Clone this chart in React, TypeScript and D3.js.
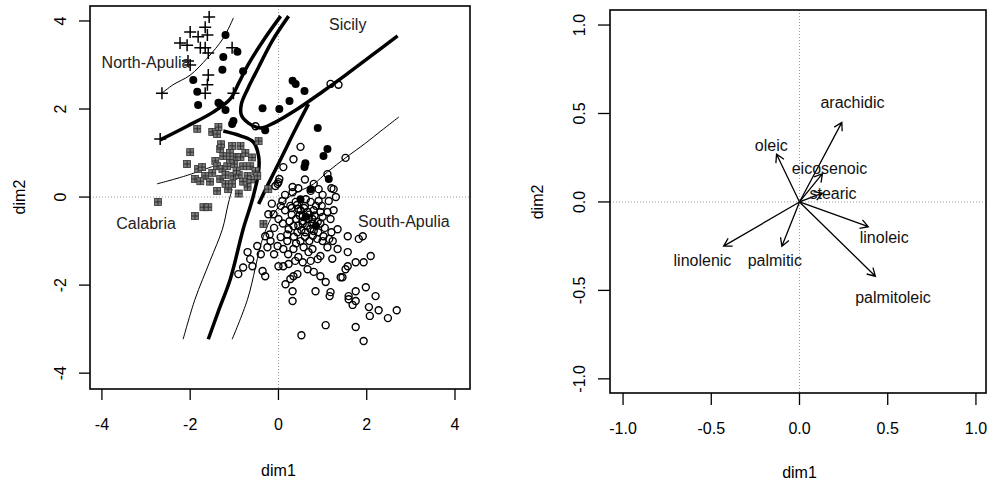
import React from 'react';
import * as d3 from 'd3';

// left panel: discriminant scores, four regions
const northApulia = [
  [-1.57, 4.09], [-1.66, 3.86], [-2.0, 3.75], [-1.82, 3.64], [-1.61, 3.68], [-2.23, 3.5],
  [-2.07, 3.45], [-1.77, 3.39], [-1.66, 3.39], [-1.59, 3.27], [-1.05, 3.39], [-2.0, 3.0],
  [-1.59, 2.77], [-1.61, 2.55], [-1.66, 2.36], [-2.64, 2.36], [-1.02, 2.36], [-2.05, 3.09],
  [-2.68, 1.32],
];

const sicily = [
  [-1.2, 3.68], [-1.25, 3.18], [-1.27, 2.89], [-1.93, 2.66], [-1.84, 2.39], [-1.82, 2.09],
  [-0.93, 3.3], [-1.36, 2.14], [-1.2, 1.98], [0.32, 2.64], [0.39, 2.57], [0.59, 2.41],
  [0.25, 2.18], [0.02, 2.0], [-0.36, 2.02], [-0.3, 1.52], [0.89, 1.57], [1.11, 1.09],
  [1.02, 0.93], [0.61, 0.77], [0.59, 0.68], [1.14, 0.41], [-0.8, 2.86], [-1.02, 1.73],
  [-1.32, 2.11], [-1.05, 1.66], [0.5, -0.05], [0.73, 0.18], [0.62, -0.45], [0.85, -0.65],
];

const calabria = [
  [-1.84, 1.55], [-1.36, 1.59], [-1.5, 1.48], [-1.39, 1.43], [-2.0, 1.02], [-2.07, 0.75],
  [-1.82, 0.64], [-1.73, 0.68], [-1.66, 0.48], [-1.89, 0.41], [-1.77, 0.36], [-1.32, 1.09],
  [-1.05, 1.16], [-0.86, 1.16], [-1.25, 0.93], [-1.43, 0.82], [-1.39, 0.7], [-1.27, 0.64],
  [-1.16, 0.7], [-0.98, 0.91], [-0.86, 0.91], [-0.8, 0.7], [-0.64, 0.7], [-0.52, 0.59],
  [-0.7, 0.48], [-1.02, 0.48], [-1.32, 0.41], [-1.39, 0.14], [-1.14, 0.18], [-0.7, 0.23],
  [-0.48, 0.48], [-0.45, 1.27], [-0.23, 0.18], [-2.73, -0.11], [-1.7, -0.23], [-1.59, -0.23],
  [-1.89, -0.43], [-0.34, -0.61], [-1.1, 1.0], [-0.9, 0.5], [-1.2, 0.3], [-0.6, 0.9],
  [-1.0, 0.75], [-0.75, 1.0], [-1.5, 0.55], [-1.3, 1.2], [-1.1, 0.85], [-0.95, 0.6],
  [-0.8, 0.35], [-1.05, 0.3], [-0.62, 0.4], [-1.2, 0.5], [-0.9, 0.08], [-1.55, 0.35],
];

const southApulia = [
  [0.5, 1.14], [0.34, 0.86], [0.11, 0.68], [1.52, 0.89], [1.11, 0.52], [1.18, 2.57],
  [1.36, 2.55], [-0.52, 1.61], [0.02, 0.41], [-0.02, 0.3], [0.32, 0.23], [1.25, 0.18],
  [0.91, 0.18], [0.73, 0.14], [0.32, 0.11], [0.0, 0.34], [-0.07, 0.25], [0.09, -0.09],
  [0.27, -0.2], [0.39, -0.11], [0.45, -0.27], [0.55, -0.43], [0.66, -0.34], [0.77, -0.5],
  [0.89, -0.57], [0.95, -0.34], [1.11, -0.34], [1.18, -0.5], [1.34, -0.73], [1.14, -0.09],
  [0.91, -0.09], [0.73, -0.11], [0.55, -0.61], [0.34, -0.66], [0.23, -0.73], [0.43, -0.8],
  [0.61, -0.8], [0.8, -0.77], [1.02, -0.89], [1.23, -1.0], [1.34, -1.18], [1.11, -1.14],
  [0.95, -1.34], [0.77, -1.18], [0.57, -1.14], [0.34, -1.18], [0.11, -1.18], [-0.02, -1.11],
  [-0.18, -1.0], [-0.25, -1.14], [-0.11, -0.39], [-0.23, -0.39], [0.0, -0.5], [0.05, -0.91],
  [-0.48, -1.11], [-0.3, -0.89], [-0.64, -1.41], [-0.59, -1.57], [-0.36, -1.68], [-0.3, -1.8],
  [-0.91, -1.75], [0.0, -1.57], [0.11, -1.57], [0.23, -1.52], [0.45, -1.36], [0.55, -1.48],
  [0.73, -1.45], [0.89, -1.41], [0.66, -1.64], [0.8, -1.7], [0.95, -1.8], [1.07, -1.93],
  [0.43, -1.75], [0.27, -1.86], [0.16, -1.98], [0.32, -2.14], [0.84, -2.14], [1.18, -2.16],
  [1.45, -1.82], [1.57, -1.57], [1.57, -0.89], [1.82, -0.95], [1.91, -0.89], [1.75, -1.48],
  [1.93, -1.48], [2.09, -1.34], [1.59, -2.25], [1.98, -2.05], [2.2, -2.25], [1.57, -1.25],
  [1.52, -1.64], [1.41, -1.82], [1.75, -2.14], [1.59, -2.32], [1.75, -2.36], [1.68, -2.45],
  [2.05, -2.5], [2.27, -2.57], [2.07, -2.7], [2.68, -2.57], [2.48, -2.75], [1.16, -2.25],
  [1.07, -2.91], [1.75, -2.95], [0.52, -3.14], [1.93, -3.27], [0.32, -2.36], [0.34, -1.8],
  [0.5, -0.3], [0.6, -0.2], [0.7, -0.4], [0.55, -0.55], [0.65, -0.65], [0.8, -0.3],
  [0.85, -0.2], [0.4, -0.5], [0.45, -0.65], [0.75, -0.6], [0.95, -0.6], [1.0, -0.45],
  [0.3, -0.4], [0.6, -0.9], [0.9, -0.8], [1.0, -1.0], [0.2, -1.0], [0.5, -1.0],
  [0.7, -1.0], [0.35, -0.9], [1.2, -0.8], [0.15, -0.3], [0.25, -0.55], [0.05, -0.2],
  [-0.1, -0.7], [-0.2, -0.85], [-0.4, -1.3], [-0.7, -1.25], [-0.8, -1.6], [0.6, 0.4],
  [0.8, 0.3], [1.0, 0.05], [1.2, 0.2], [1.3, 0.0], [0.58, -0.25], [0.68, -0.5],
  [0.48, -0.42], [0.82, -0.42], [0.72, -0.72], [0.52, -0.75], [0.88, -0.95], [0.42, -0.18],
  [0.62, -0.05], [0.98, -0.2], [1.05, -0.7], [0.2, -0.85], [0.4, -1.05], [0.78, -0.88],
  [1.15, -0.95], [0.1, -0.6], [0.3, -0.25], [1.25, -0.3], [0.15, 0.05], [0.45, 0.2],
  [-0.15, -0.15], [0.68, -1.25], [0.22, -1.3], [1.22, -1.4], [0.38, -1.45], [-0.1, -1.3],
];

// class boundaries (thick) and probability contours (thin)
const boundaryA = [[0.05, 4.11], [-0.32, 3.59], [-0.68, 3.02], [-0.91, 2.57], [-1.09, 2.23], [-1.48, 1.93], [-2.07, 1.61], [-2.68, 1.3]];
const boundaryB = [[0.23, 4.11], [-0.14, 3.55], [-0.45, 2.95], [-0.7, 2.45], [-0.84, 2.11], [-0.84, 1.86], [-0.68, 1.68], [-0.41, 1.57], [-0.11, 1.68], [0.43, 2.0], [1.02, 2.41], [1.52, 2.77], [2.09, 3.2], [2.7, 3.66]];
const boundaryC = [[-1.25, 1.5], [-0.86, 1.39], [-0.57, 1.25], [-0.45, 0.93], [-0.45, 0.57], [-0.59, -0.05], [-0.8, -0.73], [-1.09, -1.86], [-1.36, -2.59], [-1.59, -3.23]];
const boundaryD = [[0.68, 2.11], [0.39, 1.55], [0.05, 0.86], [-0.23, 0.3], [-0.45, -0.16]];
const contour1 = [[-1.02, 4.07], [-1.25, 3.61], [-1.61, 3.16], [-2.0, 2.77], [-2.39, 2.55], [-2.64, 2.36]];
const contour2 = [[-2.75, 0.3], [-2.11, 0.48], [-1.48, 0.7]];
const contour3 = [[-2.16, -3.23], [-1.89, -2.32], [-1.55, -1.45], [-1.27, -0.73], [-1.14, -0.16], [-1.05, 0.18]];
const contour4 = [[-1.05, -3.23], [-0.7, -2.32], [-0.34, -0.89], [-0.07, -0.32], [0.27, 0.02], [0.8, 0.3], [1.11, 0.57], [1.52, 0.89], [1.98, 1.23], [2.32, 1.5], [2.73, 1.82]];

const regionNames = ['North-Apulia', 'Sicily', 'Calabria', 'South-Apulia'];
const regionLabelAt = [[-3.0, 3.05], [1.57, 3.92], [-3.0, -0.59], [2.84, -0.55]];

// right panel: variable loadings
const acids = ['arachidic', 'oleic', 'eicosenoic', 'stearic', 'linoleic', 'palmitoleic', 'palmitic', 'linolenic'];
const loadX = [0.24, -0.13, 0.13, 0.13, 0.39, 0.43, -0.1, -0.43];
const loadY = [0.45, 0.27, 0.16, 0.05, -0.14, -0.42, -0.25, -0.25];
const acidLabelAt = [[0.3, 0.56], [-0.16, 0.32], [0.17, 0.19], [0.19, 0.05], [0.48, -0.2], [0.53, -0.54], [-0.14, -0.33], [-0.55, -0.33]];

const leftTicks = [-4, -2, 0, 2, 4];
const rightTicks = [-1.0, -0.5, 0.0, 0.5, 1.0];

const FONT = '"Liberation Sans", Arial, sans-serif';

export default function App() {
  const W = 988, H = 481;

  const lx = d3.scaleLinear().domain([-4.27, 4.34]).range([90, 470]);
  const ly = d3.scaleLinear().domain([-4.36, 4.34]).range([389, 6]);
  const rx = d3.scaleLinear().domain([-1.074, 1.074]).range([610, 989]);
  const ry = d3.scaleLinear().domain([-1.08, 1.085]).range([393, 10]);

  const lLine = d3.line<number[]>().x(d => lx(d[0])).y(d => ly(d[1])).curve(d3.curveCatmullRom);

  const thick = [boundaryA, boundaryB, boundaryC, boundaryD];
  const thin = [contour1, contour2, contour3, contour4];

  const arrow = (i: number) => {
    const x0 = rx(0), y0 = ry(0);
    const x1 = rx(loadX[i]), y1 = ry(loadY[i]);
    const a = Math.atan2(y1 - y0, x1 - x0);
    const L = 9, s = Math.PI / 6;
    const h1 = [x1 - L * Math.cos(a - s), y1 - L * Math.sin(a - s)];
    const h2 = [x1 - L * Math.cos(a + s), y1 - L * Math.sin(a + s)];
    return `M${x0},${y0}L${x1},${y1}M${h1[0]},${h1[1]}L${x1},${y1}L${h2[0]},${h2[1]}`;
  };

  return (
    <svg width={W} height={H} style={{ position: 'absolute', left: 0, top: 0, background: '#fff' }}
      fontFamily={FONT}>
      {/* ---------- left panel ---------- */}
      <g>
        <line x1={90} x2={470} y1={ly(0)} y2={ly(0)} stroke="#999" strokeDasharray="1 2" />
        <line x1={lx(0)} x2={lx(0)} y1={6} y2={389} stroke="#999" strokeDasharray="1 2" />

        {thin.map((c, i) => (
          <path key={'t' + i} d={lLine(c as any) || ''} fill="none" stroke="#000" strokeWidth={1} />
        ))}
        {thick.map((c, i) => (
          <path key={'b' + i} d={lLine(c as any) || ''} fill="none" stroke="#000" strokeWidth={3.5} />
        ))}

        {calabria.map((d, i) => {
          const x = lx(d[0]), y = ly(d[1]);
          return (
            <g key={'c' + i}>
              <rect x={x - 3.5} y={y - 3.5} width={7} height={7} fill="#7a7a7a" stroke="#333" strokeWidth={0.8} />
              <path d={`M${x - 3.5},${y}H${x + 3.5}M${x},${y - 3.5}V${y + 3.5}`} stroke="#222" strokeWidth={0.8} />
            </g>
          );
        })}
        {southApulia.map((d, i) => (
          <circle key={'s' + i} cx={lx(d[0])} cy={ly(d[1])} r={3.5} fill="none" stroke="#000" strokeWidth={1.4} />
        ))}
        {sicily.map((d, i) => (
          <circle key={'si' + i} cx={lx(d[0])} cy={ly(d[1])} r={4} fill="#000" />
        ))}
        {northApulia.map((d, i) => {
          const x = lx(d[0]), y = ly(d[1]);
          return <path key={'n' + i} d={`M${x - 6},${y}H${x + 6}M${x},${y - 6}V${y + 6}`} stroke="#000" strokeWidth={1.5} />;
        })}

        {regionNames.map((n, i) => (
          <text key={n} x={lx(regionLabelAt[i][0])} y={ly(regionLabelAt[i][1])} dy="0.35em"
            textAnchor="middle" fontSize={16} fill="#222">{n}</text>
        ))}

        <rect x={90} y={6} width={380} height={383} fill="none" stroke="#000" strokeWidth={1.6} />
        {leftTicks.map(t => (
          <g key={'lx' + t}>
            <line x1={lx(t)} x2={lx(t)} y1={389} y2={400} stroke="#000" strokeWidth={1.3} />
            <text x={lx(t)} y={424} dy="0.35em" textAnchor="middle" fontSize={16}>{t}</text>
            <line x1={79} x2={90} y1={ly(t)} y2={ly(t)} stroke="#000" strokeWidth={1.3} />
            <text transform={`translate(60,${ly(t)}) rotate(-90)`} dy="0.35em" textAnchor="middle" fontSize={16}>{t}</text>
          </g>
        ))}
        <text x={lx(0)} y={470} dy="0.35em" textAnchor="middle" fontSize={16}>dim1</text>
        <text transform={`translate(19,${ly(0)}) rotate(-90)`} dy="0.35em" textAnchor="middle" fontSize={16}>dim2</text>
      </g>

      {/* ---------- right panel ---------- */}
      <g>
        <line x1={610} x2={988} y1={ry(0)} y2={ry(0)} stroke="#999" strokeDasharray="1 2" />
        <line x1={rx(0)} x2={rx(0)} y1={10} y2={393} stroke="#999" strokeDasharray="1 2" />
        {acids.map((a, i) => (
          <path key={a} d={arrow(i)} fill="none" stroke="#000" strokeWidth={1.3} />
        ))}
        {acids.map((a, i) => (
          <text key={'l' + a} x={rx(acidLabelAt[i][0])} y={ry(acidLabelAt[i][1])} dy="0.35em"
            textAnchor="middle" fontSize={16} fill="#111">{a}</text>
        ))}
        <rect x={610} y={10} width={376} height={383} fill="none" stroke="#000" strokeWidth={1.6} />
        {rightTicks.map(t => (
          <g key={'rx' + t}>
            <line x1={rx(t)} x2={rx(t)} y1={393} y2={405} stroke="#000" strokeWidth={1.3} />
            <text x={rx(t)} y={428} dy="0.35em" textAnchor="middle" fontSize={16}>{t.toFixed(1)}</text>
            <line x1={598} x2={610} y1={ry(t)} y2={ry(t)} stroke="#000" strokeWidth={1.3} />
            <text transform={`translate(579,${ry(t)}) rotate(-90)`} dy="0.35em" textAnchor="middle" fontSize={16}>{t.toFixed(1)}</text>
          </g>
        ))}
        <text x={rx(0)} y={472} dy="0.35em" textAnchor="middle" fontSize={16}>dim1</text>
        <text transform={`translate(537,${ry(0)}) rotate(-90)`} dy="0.35em" textAnchor="middle" fontSize={16}>dim2</text>
      </g>
    </svg>
  );
}
